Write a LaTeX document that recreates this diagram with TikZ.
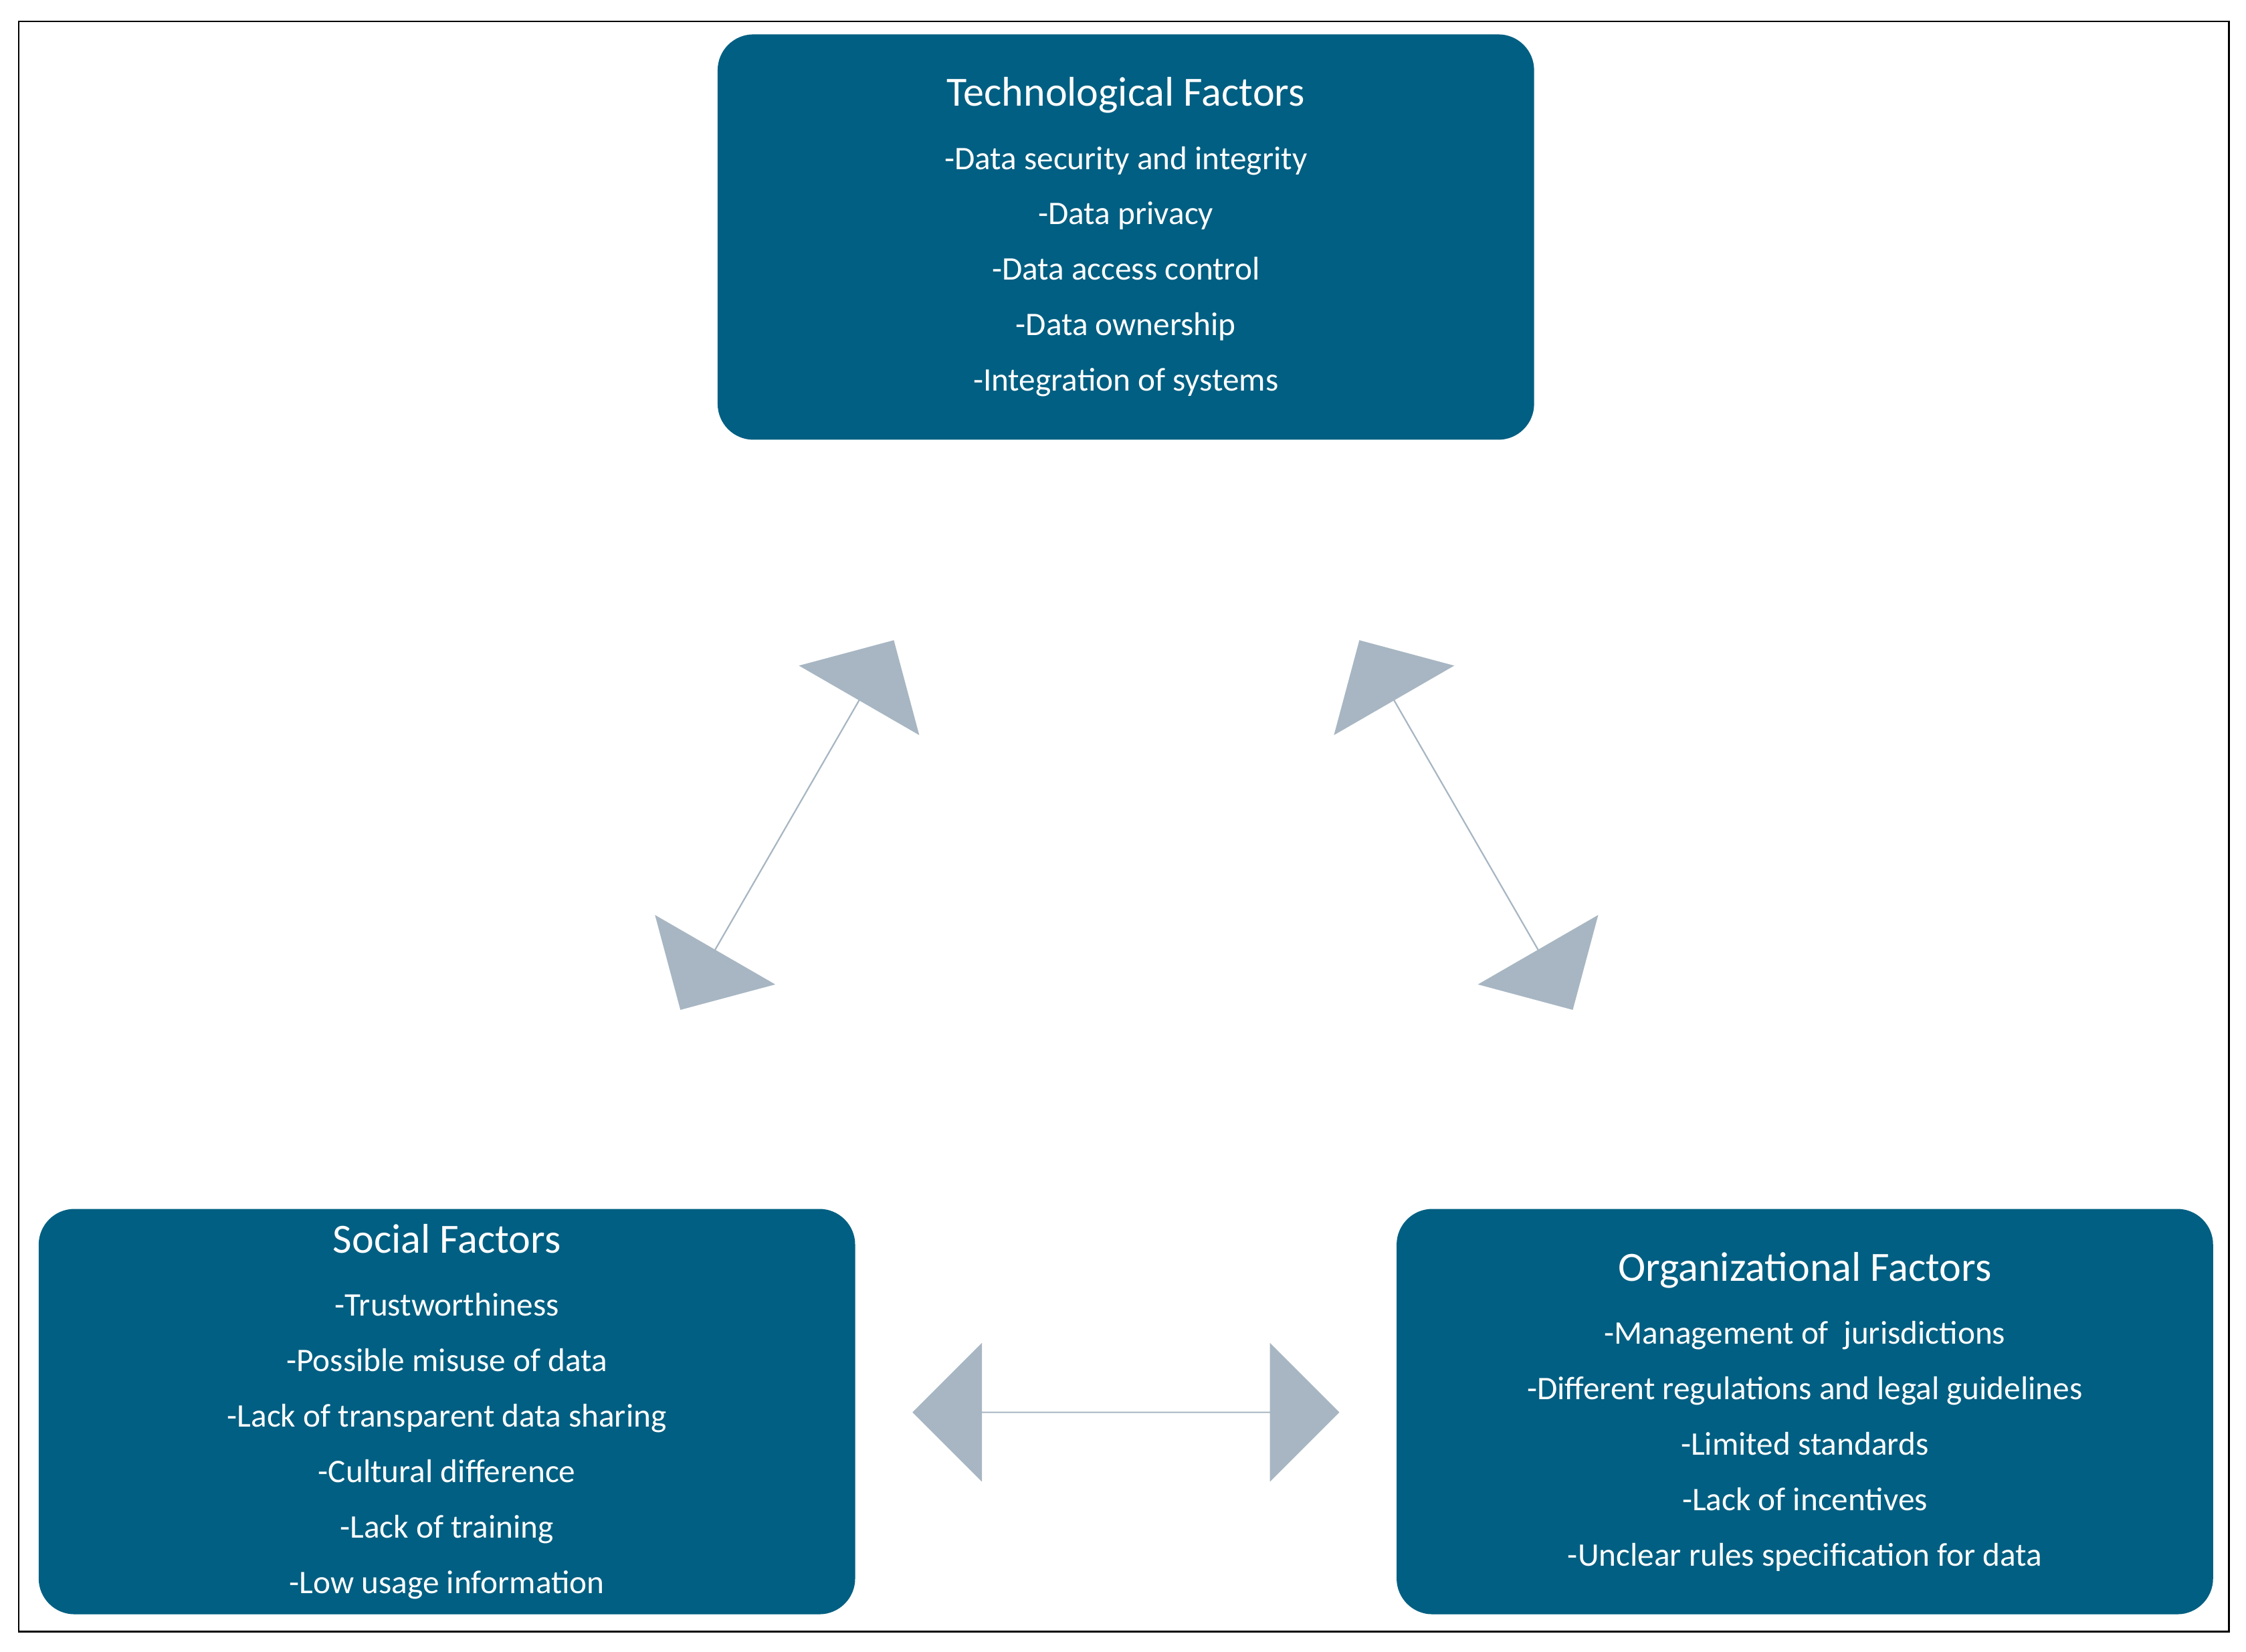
\documentclass[tikz,border=0pt]{standalone}
\usepackage{fontspec}
\setmainfont{Carlito}
\usetikzlibrary{shapes.arrows}
\definecolor{boxblue}{RGB}{0,95,130}
\definecolor{arrowgray}{RGB}{167,182,194}
\tikzset{
  box/.style={fill=boxblue, rounded corners=25pt, minimum width=570pt, minimum height=283pt,
    text=white, align=center, inner sep=0pt, font=\fontsize{23}{38.7}\selectfont},
  dbl/.style={double arrow, fill=arrowgray, draw=none, inner sep=0pt,
    minimum height=298pt, minimum width=97pt, double arrow head extend=18.5pt},
}
\newcommand{\ttl}[1]{{\fontsize{29}{35}\selectfont #1}\\[5.3pt]}
\begin{document}
\begin{tikzpicture}[x=1pt,y=-1pt]
\path[use as bounding box] (0,0) rectangle (1568,1153);
\draw[line width=1.2pt] (13,15) rectangle (1556,1139);
\node[box] (tech) at (786,165.5) {\ttl{Technological Factors}-Data security and integrity\\-Data privacy\\-Data access control\\-Data ownership\\-Integration of systems};
\node[box] (soc) at (312,985.5) {\ttl{Social Factors}-Trustworthiness\\-Possible misuse of data\\-Lack of transparent data sharing\\-Cultural difference\\-Lack of training\\-Low usage information};
\node[box] (org) at (1260,985.5) {\ttl{Organizational Factors}-Management of~ jurisdictions\\-Different regulations and legal guidelines\\-Limited standards\\-Lack of incentives\\-Unclear rules specification for data};
\node[dbl, rotate=60] (a1) at (549.5,576) {};
\node[dbl, rotate=120] (a2) at (1023.5,576) {};
\node[dbl] (a3) at (786,986) {};
\end{tikzpicture}
\end{document}
